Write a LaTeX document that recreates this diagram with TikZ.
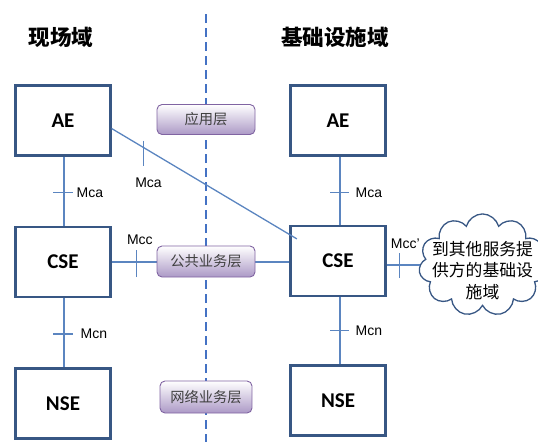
\documentclass[tikz,border=0pt]{standalone}
\usepackage{fontspec}
\setmainfont{Liberation Sans}
\newfontfamily\cjk{Noto Sans CJK SC}
\newfontfamily\cali{Carlito}
\usetikzlibrary{shapes, shapes.symbols, positioning}

\definecolor{boxblue}{RGB}{56,87,132}
\definecolor{linkblue}{RGB}{91,133,192}
\definecolor{dashblue}{RGB}{68,114,196}
\definecolor{layerdraw}{RGB}{128,100,162}
\definecolor{layerfill}{RGB}{172,153,198}

\begin{document}
\begin{tikzpicture}[x=1pt, y=-1pt, inner sep=0pt,
  entity/.style={draw=boxblue, line width=2.2pt, minimum width=95pt, minimum height=70pt, font=\cali\bfseries\fontsize{21}{24}\selectfont},
  layer/.style={draw=layerdraw, line width=0.9pt, rounded corners=5pt, top color=white, bottom color=layerfill, minimum width=98pt, minimum height=30pt, text=black!75, font=\cjk\fontsize{14.3}{16}\selectfont},
  link/.style={draw=linkblue, line width=1.3pt},
  iface/.style={font=\fontsize{14}{16}\selectfont},
  domaintitle/.style={font=\cjk\bfseries\fontsize{21.5}{24}\selectfont}]
\useasboundingbox (0,0) rectangle (538,442);

\draw[dashblue, line width=1.8pt, dash pattern=on 9pt off 5pt] (206,14) -- (206,442);

\node[domaintitle] (fieldtitle) at (61,37) {现场域};
\node[domaintitle] (infratitle) at (335,37) {基础设施域};

\node[entity] (fae) at (63,120.5) {AE};
\node[entity] (fcse) at (63,262) {CSE};
\node[entity] (fnse) at (63,403.5) {NSE};
\node[entity] (iae) at (338,120.5) {AE};
\node[entity] (icse) at (338,261) {CSE};
\node[entity] (inse) at (338,400.5) {NSE};

\node[cloud, draw=boxblue, line width=1.3pt, cloud puffs=11, aspect=1.42] (other) at (482.5,265) {\rule{81pt}{0pt}\rule{0pt}{26pt}};
\node[font=\cjk\fontsize{16.8}{21.5}\selectfont, align=center] (othertext) at (482.5,270.5) {到其他服务提\\供方的基础设\\施域};

\draw[link] ([xshift=1pt]fae.south) -- coordinate[pos=.52] (famid) ([xshift=1pt]fcse.north);
\draw[link] ([xshift=-11pt]famid) -- ([xshift=9pt]famid) node[iface, right=3pt] {Mca};
\draw[link] ([xshift=1pt]fcse.south) -- coordinate[pos=.52] (fnmid) ([xshift=1pt]fnse.north);
\draw[link] ([xshift=-11pt]fnmid) -- ([xshift=9pt]fnmid) node[iface, right=7pt] {Mcn};

\draw[link] ([xshift=2pt]iae.south) -- coordinate[pos=.53] (iamid) ([xshift=2pt]icse.north);
\draw[link] ([xshift=-10pt]iamid) -- ([xshift=9pt]iamid) node[iface, right=6pt] {Mca};
\draw[link] ([xshift=2pt]icse.south) -- coordinate[pos=.5] (inmid) ([xshift=2pt]inse.north);
\draw[link] ([xshift=-10pt]inmid) -- ([xshift=9pt]inmid) node[iface, right=6pt] {Mcn};

\draw[link] ([yshift=-8pt]fae.east) -- coordinate[pos=.173] (diagmid) ([shift={(7.5pt,-14pt)}]icse.north west);
\draw[link] ([yshift=7pt]diagmid) -- ([yshift=-18pt]diagmid);
\node[iface] (diaglabel) at (148.5,183) {Mca};

\draw[link] (fcse.east) -- coordinate[pos=.142] (ccmid) (fcse.east -| icse.west);
\draw[link] ([yshift=-15pt]ccmid) -- ([yshift=12pt]ccmid) node[iface, above=5pt, xshift=3pt] {Mcc};

\draw[link] (icse.east |- other.west) -- coordinate[pos=.4] (ccpmid) (other.west);
\draw[link] ([yshift=-13pt]ccpmid) -- ([yshift=12pt]ccpmid) node[iface, above=4pt, xshift=5.5pt] {Mcc'};

\node[layer] (applayer) at (206,119.5) {应用层};
\node[layer, minimum height=31pt] (cslayer) at (206,261.5) {公共业务层};
\node[layer, minimum width=92pt, minimum height=32pt] (nslayer) at (206,397) {网络业务层};
\end{tikzpicture}
\end{document}
